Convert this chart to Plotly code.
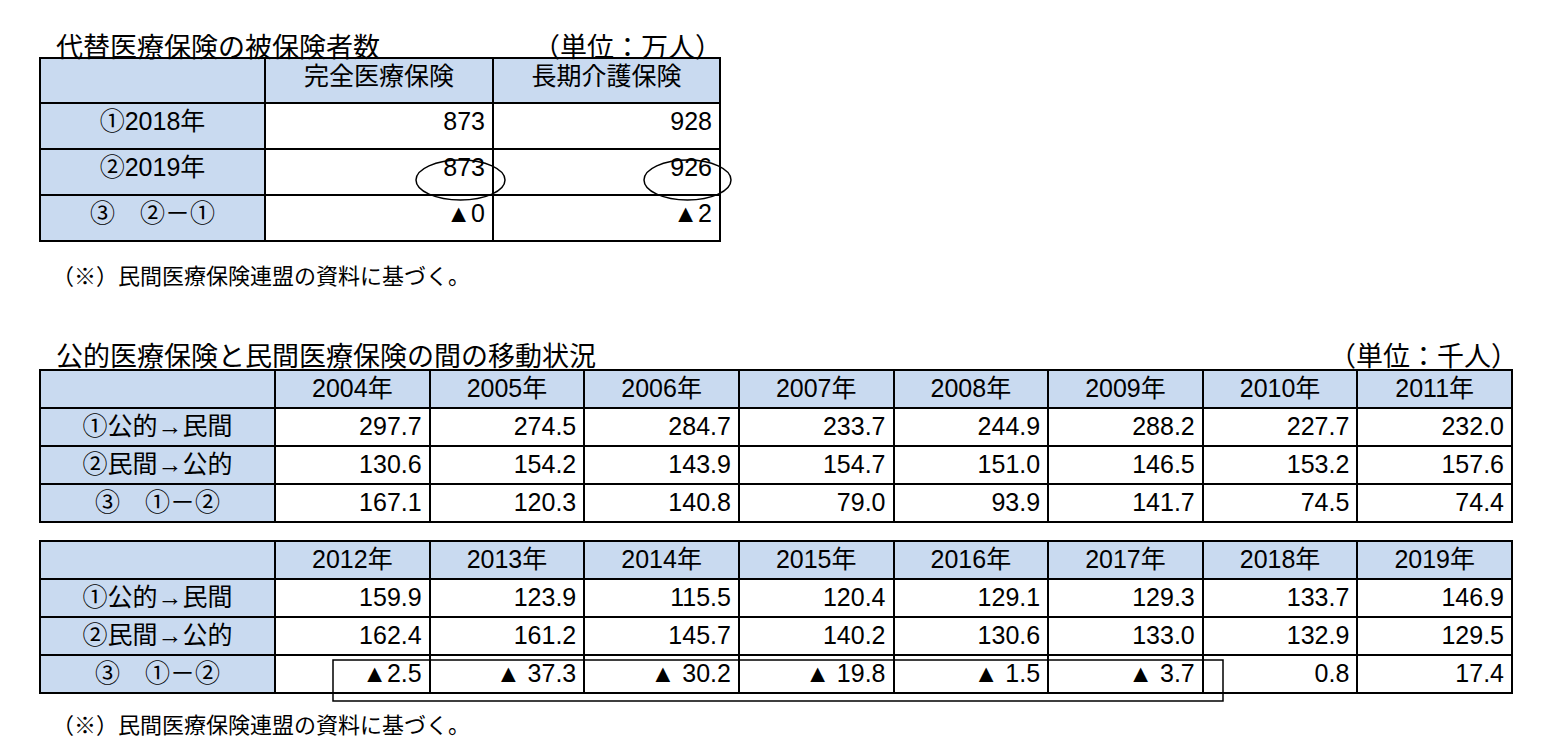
import plotly.graph_objects as go

W, H = 1555, 747
BLUE = "#c9daf0"
FONT = "Liberation Sans, Noto Sans CJK JP"

# Table 1 data
t1_cols = ["完全医療保険", "長期介護保険"]
t1_rows = ["①2018年", "②2019年", "③　②－①"]
t1_full = ["873", "873", "▲0"]
t1_ltc = ["928", "926", "▲2"]

# Table 2/3 data
years_a = ["2004年", "2005年", "2006年", "2007年", "2008年", "2009年", "2010年", "2011年"]
years_b = ["2012年", "2013年", "2014年", "2015年", "2016年", "2017年", "2018年", "2019年"]
row_labels = ["①公的→民間", "②民間→公的", "③　①－②"]
pub_to_priv_a = ["297.7", "274.5", "284.7", "233.7", "244.9", "288.2", "227.7", "232.0"]
priv_to_pub_a = ["130.6", "154.2", "143.9", "154.7", "151.0", "146.5", "153.2", "157.6"]
diff_a = ["167.1", "120.3", "140.8", "79.0", "93.9", "141.7", "74.5", "74.4"]
pub_to_priv_b = ["159.9", "123.9", "115.5", "120.4", "129.1", "129.3", "133.7", "146.9"]
priv_to_pub_b = ["162.4", "161.2", "145.7", "140.2", "130.6", "133.0", "132.9", "129.5"]
diff_b = ["▲2.5", "▲ 37.3", "▲ 30.2", "▲ 19.8", "▲ 1.5", "▲ 3.7", "0.8", "17.4"]

def px(x): return x / W
def py(y): return 1 - y / H

fig = go.Figure()
OFF = 8

def add_table(x0, x1, y0, y1, header, cols, widths, hh, ch):
    n = len(cols)
    fig.add_trace(go.Table(
        domain=dict(x=[px(x0 - OFF), px(x1 - OFF)], y=[py(y1 - OFF), py(y0 - OFF)]),
        columnwidth=widths,
        header=dict(values=header, fill_color=BLUE, height=hh,
                    line=dict(color="black", width=2), align="center",
                    font=dict(family=FONT, size=25, color="black")),
        cells=dict(values=cols, height=ch,
                   fill_color=[[BLUE] * 3] + [["white"] * 3] * (n - 1),
                   line=dict(color="black", width=2),
                   align=["center"] + ["right"] * (n - 1),
                   font=dict(family=FONT, size=25, color="black")),
    ))

add_table(40, 720, 58, 242, [""] + t1_cols, [t1_rows, t1_full, t1_ltc],
          [225, 228, 227], 45, 46)
add_table(40, 1512, 370, 523, [""] + years_a,
          [row_labels] + [[a, b, c] for a, b, c in zip(pub_to_priv_a, priv_to_pub_a, diff_a)],
          [235] + [154.6] * 8, 38, 38)
add_table(40, 1512, 541, 694, [""] + years_b,
          [row_labels] + [[a, b, c] for a, b, c in zip(pub_to_priv_b, priv_to_pub_b, diff_b)],
          [235] + [154.6] * 8, 38, 38)

def text(x, y, s, anchor="left", size=27):
    fig.add_annotation(x=px(x), y=py(y), xref="paper", yref="paper", text=s,
                       showarrow=False, xanchor=anchor, yanchor="middle",
                       font=dict(family="Noto Sans CJK JP", size=size, color="black"))

text(46, 38, "代替医療保険の被保険者数")
text(716, 38, "（単位：万人）", "right")
text(42, 266, "（※）民間医療保険連盟の資料に基づく。", size=22)
text(46, 346, "公的医療保険と民間医療保険の間の移動状況")
text(1512, 346, "（単位：千人）", "right")
text(42, 715, "（※）民間医療保険連盟の資料に基づく。", size=22)

for x0, x1 in [(408, 497), (636, 723)]:
    fig.add_shape(type="circle", xref="paper", yref="paper",
                  x0=px(x0), x1=px(x1), y0=py(192), y1=py(152),
                  line=dict(color="black", width=1.5))
fig.add_shape(type="rect", xref="paper", yref="paper",
              x0=px(325), x1=px(1215), y0=py(693), y1=py(652),
              line=dict(color="black", width=1.5))

fig.update_layout(width=W, height=H, margin=dict(l=0, r=0, t=0, b=0),
                  paper_bgcolor="white", plot_bgcolor="white")
fig.write_html("out.html")
